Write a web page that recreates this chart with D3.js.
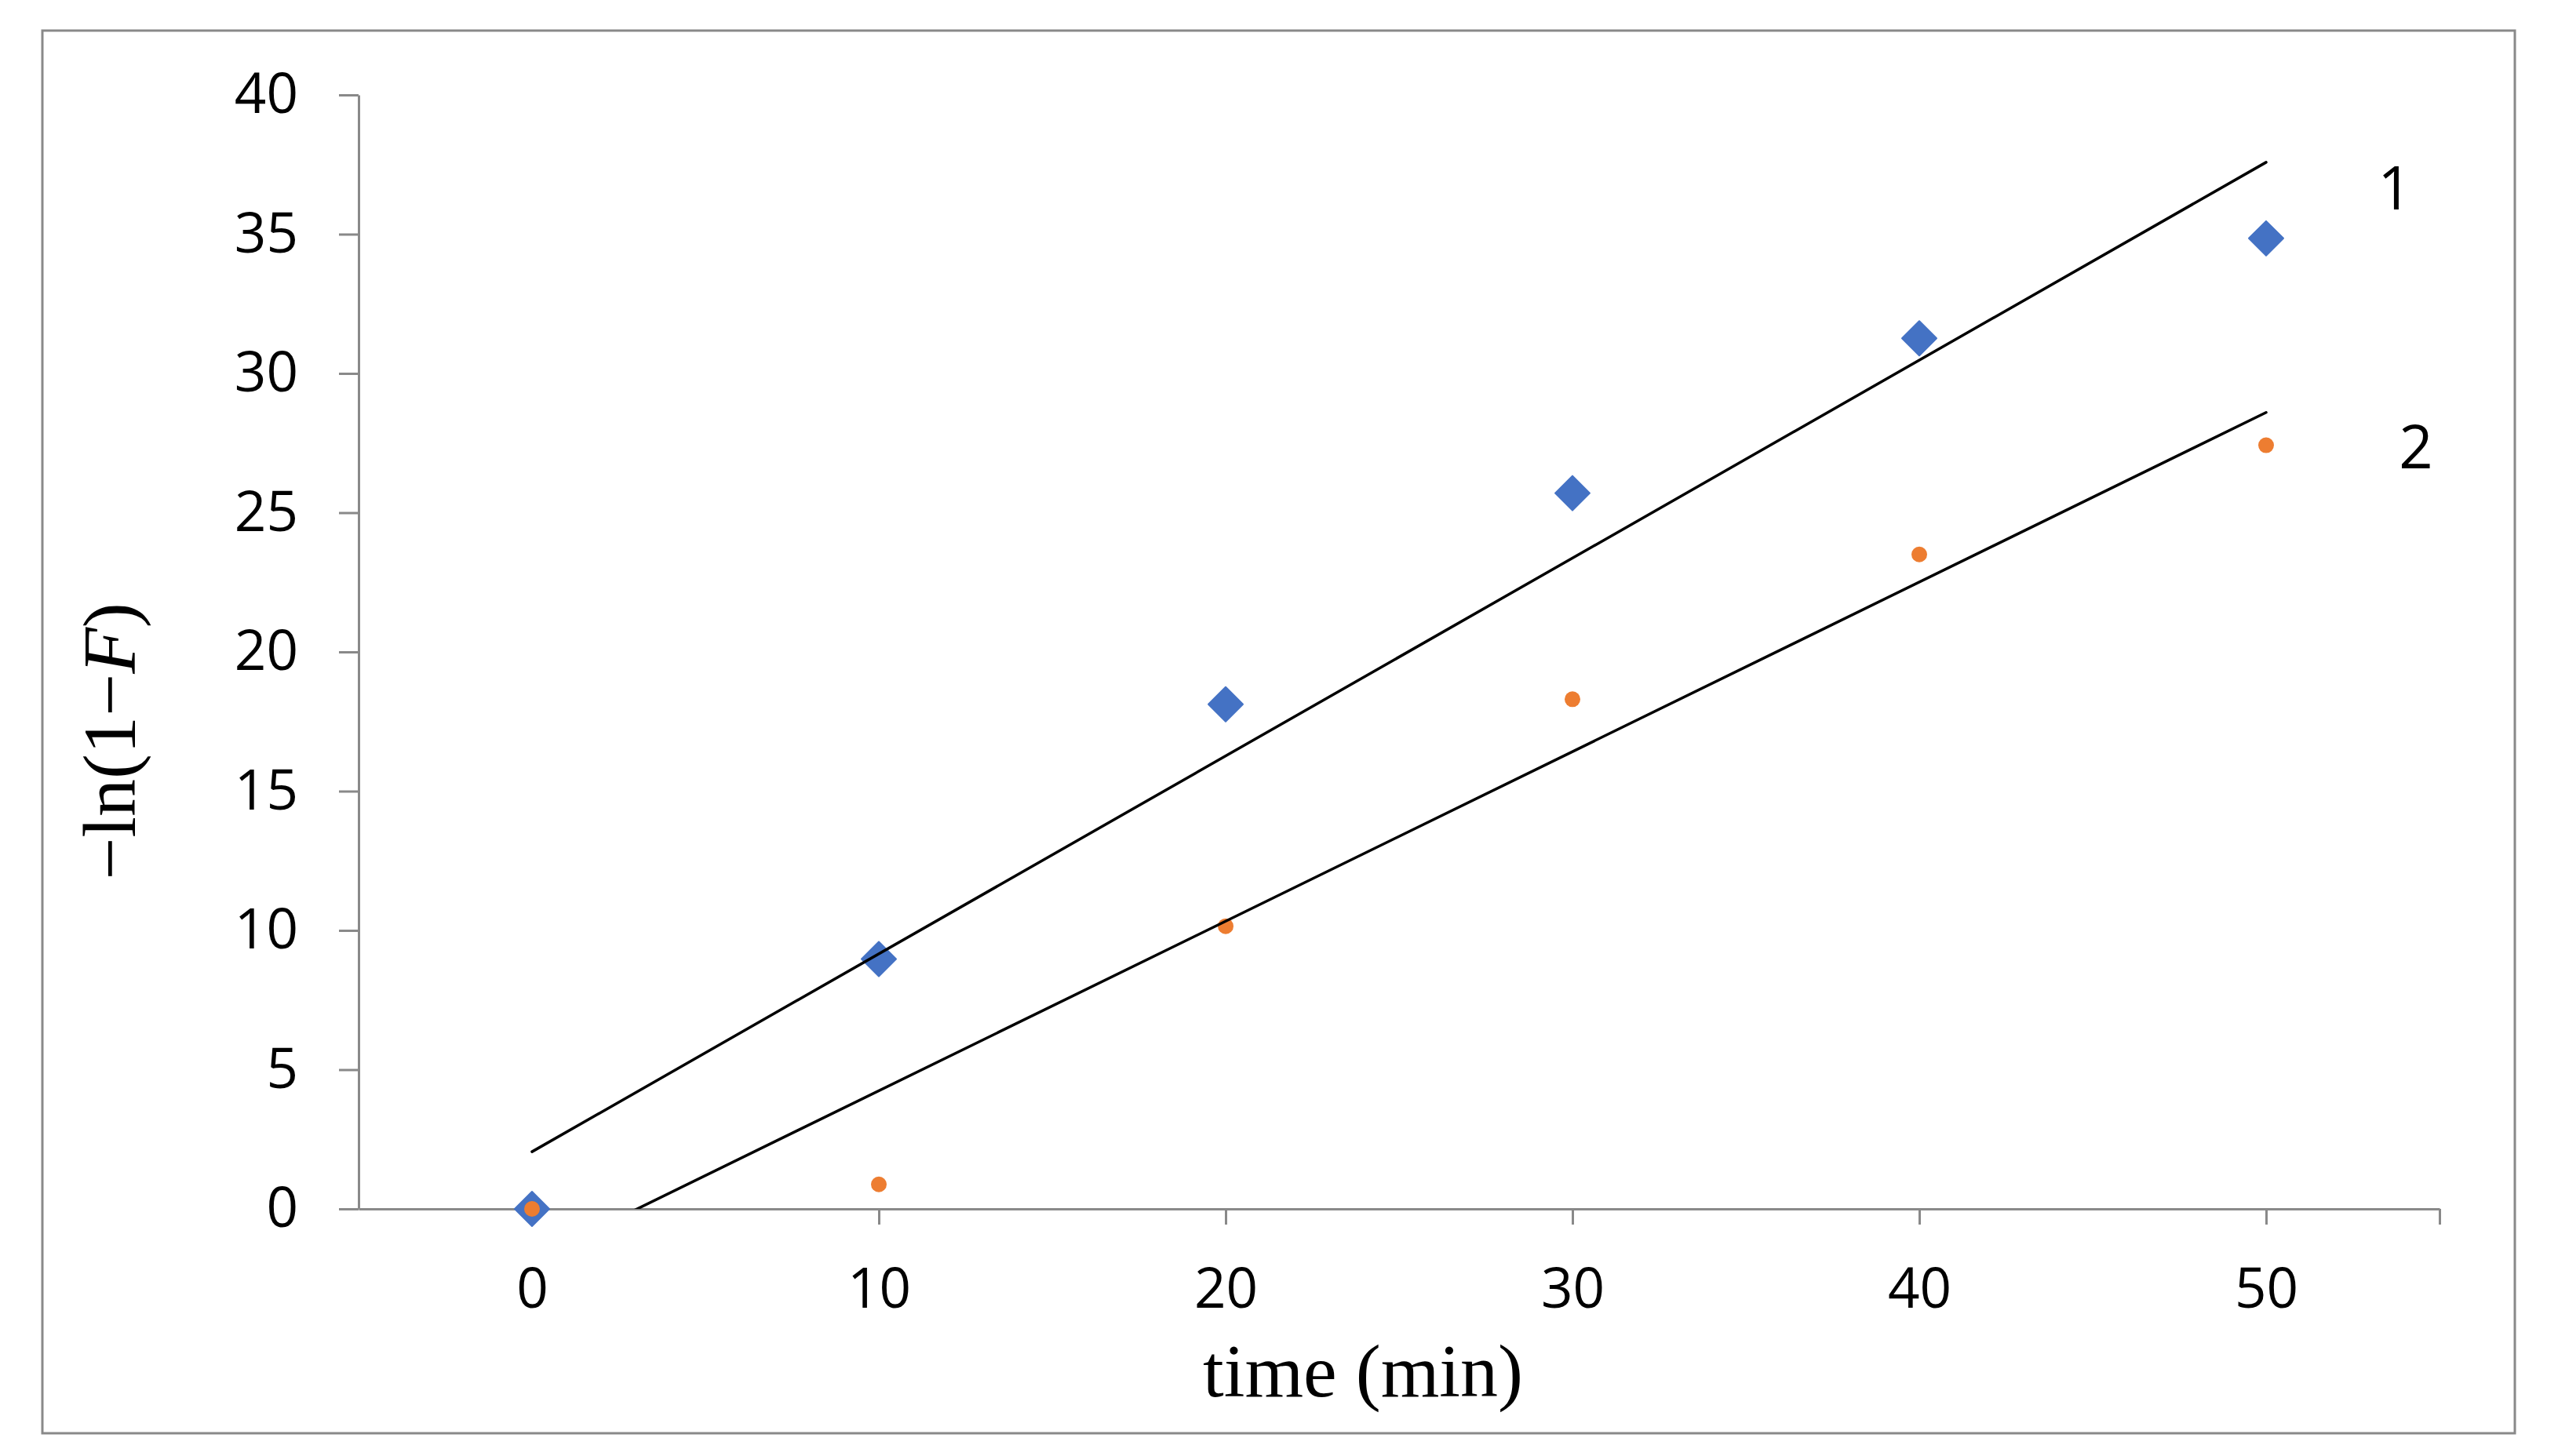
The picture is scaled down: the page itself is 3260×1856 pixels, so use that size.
<!DOCTYPE html>
<html>
<head>
<meta charset="utf-8">
<script src="https://cdn.jsdelivr.net/npm/d3@7"></script>
<style>
  html, body { margin: 0; padding: 0; background: #fff; }
  svg { display: block; }
</style>
</head>
<body>
<svg id="chart" width="3260" height="1856"></svg>
<script>
/*========================================
	Data
========================================*/
var timeMin = [0, 10, 20, 30, 40, 50];
var series1 = [0, 8.97, 18.12, 25.7, 31.26, 34.85];
var series2 = [0, 0.88, 10.15, 18.3, 23.5, 27.42];
var xTickValues = [0, 10, 20, 30, 40, 50];
var yTickValues = [0, 5, 10, 15, 20, 25, 30, 35, 40];
var lineLabels = ["1", "2"];

/*========================================
	Layout
========================================*/
var width = 3260;
var height = 1856;
var axisGray = "#898989";
var tickFont = "'Open Sans', 'Noto Sans', sans-serif";
var titleFont = "'Liberation Serif', 'Times New Roman', serif";

var svg = d3.select("#chart");

var x = d3.scaleLinear().domain([-5, 55]).range([457, 3109]);
var y = d3.scaleLinear().domain([0, 40]).range([1541, 121]);

// outer frame
svg.append("rect")
	.attr("x", 54).attr("y", 39)
	.attr("width", 3205 - 54).attr("height", 1827 - 39)
	.attr("fill", "#fff")
	.attr("stroke", axisGray)
	.attr("stroke-width", 3);

// least squares fit, like the excel trendline
var fitLine = function(xs, ys){
	var mx = d3.mean(xs), my = d3.mean(ys);
	var sxy = d3.sum(xs, function(d, i){ return (d - mx) * (ys[i] - my); });
	var sxx = d3.sum(xs, function(d){ return (d - mx) * (d - mx); });
	var slope = sxy / sxx;
	return { slope: slope, intercept: my - slope * mx };
};

/*========================================
	Axes
========================================*/
var yAxis = d3.axisLeft(y).tickValues(yTickValues).tickSize(25).tickPadding(52).tickSizeOuter(0);
var gy = svg.append("g").attr("transform", "translate(" + x(-5) + ",0)").call(yAxis);

var xAxis = d3.axisBottom(x).tickValues(xTickValues.concat([55])).tickSize(20).tickPadding(56)
	.tickSizeOuter(0)
	.tickFormat(function(d){ return xTickValues.indexOf(d) >= 0 ? d : ""; });
var gx = svg.append("g").attr("transform", "translate(0," + y(0) + ")").call(xAxis);

[gx, gy].forEach(function(g){
	g.select(".domain").attr("stroke", axisGray).attr("stroke-width", 3);
	g.selectAll(".tick line").attr("stroke", axisGray).attr("stroke-width", 3);
	g.selectAll(".tick text")
		.attr("fill", "#000")
		.style("font-family", tickFont)
		.style("font-size", "71px");
});

// axis titles
svg.append("text")
	.attr("x", 1737).attr("y", 1780)
	.attr("text-anchor", "middle")
	.style("font-family", titleFont)
	.style("font-size", "96px")
	.text("time (min)");

var yTitle = svg.append("text")
	.attr("transform", "translate(172,945) rotate(-90)")
	.attr("text-anchor", "middle")
	.style("font-family", titleFont)
	.style("font-size", "96px");
yTitle.append("tspan").text("\u2212ln(1\u2212");
yTitle.append("tspan").style("font-style", "italic").text("F");
yTitle.append("tspan").text(")");

/*========================================
	Points and trendlines
========================================*/
svg.append("clipPath").attr("id", "plotClip")
	.append("rect")
	.attr("x", x(-5)).attr("y", y(40) - 10)
	.attr("width", x(55) - x(-5)).attr("height", y(0) - y(40) + 10);

var points1 = timeMin.map(function(t, i){ return { t: t, v: series1[i] }; });
var points2 = timeMin.map(function(t, i){ return { t: t, v: series2[i] }; });

svg.append("g").selectAll("path")
	.data(points1)
	.enter().append("path")
	.attr("d", d3.symbol().type(d3.symbolSquare).size(967))
	.attr("transform", function(d){ return "translate(" + x(d.t) + "," + y(d.v) + ") rotate(45)"; })
	.attr("fill", "#4472C4")
	.attr("stroke", "#4472C4")
	.attr("stroke-width", 2)
	.attr("stroke-linejoin", "round");

svg.append("g").selectAll("circle")
	.data(points2)
	.enter().append("circle")
	.attr("cx", function(d){ return x(d.t); })
	.attr("cy", function(d){ return y(d.v); })
	.attr("r", 10)
	.attr("fill", "#ED7D31");

var fits = [fitLine(timeMin, series1), fitLine(timeMin, series2)];
var tMin = d3.min(timeMin), tMax = d3.max(timeMin);

var trend = d3.line()
	.x(function(d){ return x(d[0]); })
	.y(function(d){ return y(d[1]); });

svg.append("g").attr("clip-path", "url(#plotClip)")
	.selectAll("path")
	.data(fits)
	.enter().append("path")
	.attr("d", function(f){
		return trend([[tMin, f.intercept + f.slope * tMin], [tMax, f.intercept + f.slope * tMax]]);
	})
	.attr("fill", "none")
	.attr("stroke", "#000")
	.attr("stroke-width", 3.5)
	.attr("stroke-linecap", "round");

// line numbers next to the trendline ends
var labelPos = [[3052, 267], [3079, 597]];
svg.append("g").selectAll("text")
	.data(lineLabels)
	.enter().append("text")
	.attr("x", function(d, i){ return labelPos[i][0]; })
	.attr("y", function(d, i){ return labelPos[i][1]; })
	.attr("text-anchor", "middle")
	.style("font-family", tickFont)
	.style("font-size", "76px")
	.text(function(d){ return d; });
</script>
</body>
</html>
